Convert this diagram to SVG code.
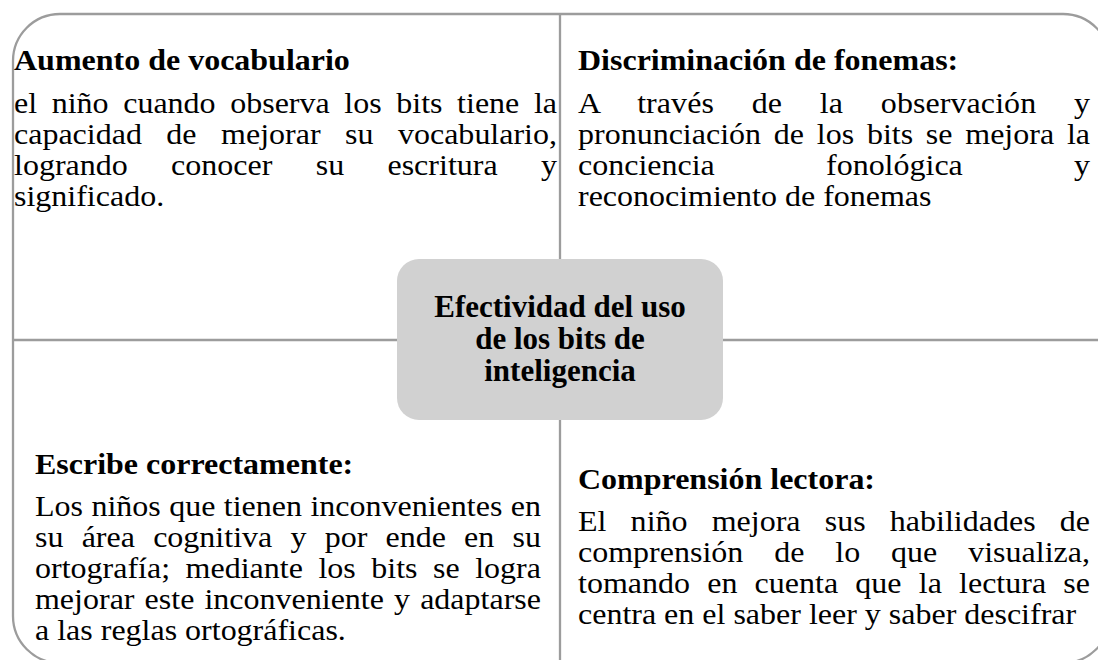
<svg xmlns="http://www.w3.org/2000/svg" width="1098" height="660" viewBox="0 0 1098 660">
<style>
.ln{fill:none;stroke:#9c9c9c;stroke-width:2.3}
.t{font-family:"Liberation Serif","Times New Roman",serif;font-weight:bold;font-size:32px;fill:#000}
.b{font-family:"Liberation Serif","Times New Roman",serif;font-size:32px;fill:#000}
.c{font-family:"Liberation Serif","Times New Roman",serif;font-weight:bold;font-size:31px;fill:#000;text-anchor:middle}
</style>
<rect width="1098" height="660" fill="#fff"/>
<g id="connectors">
<path class="ln" d="M13 61 A47 47 0 0 1 60 14 L1063 14 A47 47 0 0 1 1110 61 L1110 616 A47 47 0 0 1 1063 663 L60 663 A47 47 0 0 1 13 616 Z"/>
<line class="ln" x1="560" y1="14" x2="560" y2="259"/>
<line class="ln" x1="560" y1="420" x2="560" y2="663"/>
<line class="ln" x1="13" y1="340" x2="397" y2="340"/>
<line class="ln" x1="723" y1="340" x2="1110" y2="340"/>
</g>
<g id="node-center">
<rect x="397" y="259" width="326" height="161" rx="22" fill="#d1d1d1"/>
<text class="c" x="560" y="317">Efectividad del uso</text>
<text class="c" x="560" y="349">de los bits de</text>
<text class="c" x="560" y="381">inteligencia</text>
</g>
<g id="node-vocabulario" transform="translate(14 0) scale(1 0.92)">
<text class="t" x="0" y="76.09">Aumento de vocabulario</text>
<text class="b" x="0" y="122.83" textLength="543" lengthAdjust="spacing" style="word-spacing:6.6px">el niño cuando observa los bits tiene la</text>
<text class="b" x="0" y="156.52" textLength="543" lengthAdjust="spacing" style="word-spacing:16.5px">capacidad de mejorar su vocabulario,</text>
<text class="b" x="0" y="190.22" textLength="543" lengthAdjust="spacing" style="word-spacing:35.3px">logrando conocer su escritura y</text>
<text class="b" x="0" y="223.91">significado.</text>
</g>
<g id="node-fonemas" transform="translate(578 0) scale(1 0.92)">
<text class="t" x="0" y="76.09">Discriminación de fonemas:</text>
<text class="b" x="0" y="122.83" textLength="512" lengthAdjust="spacing" style="word-spacing:29.7px">A través de la observación y</text>
<text class="b" x="0" y="156.52" textLength="512" lengthAdjust="spacing" style="word-spacing:4.75px">pronunciación de los bits se mejora la</text>
<text class="b" x="0" y="190.22" textLength="512" lengthAdjust="spacing" style="word-spacing:103.2px">conciencia fonológica y</text>
<text class="b" x="0" y="223.91">reconocimiento de fonemas</text>
</g>
<g id="node-escribe" transform="translate(35 0) scale(1 0.92)">
<text class="t" x="0" y="515.22">Escribe correctamente:</text>
<text class="b" x="0" y="560.87" textLength="506" lengthAdjust="spacing" style="word-spacing:0.4px">Los niños que tienen inconvenientes en</text>
<text class="b" x="0" y="594.57" textLength="506" lengthAdjust="spacing" style="word-spacing:10.2px">su área cognitiva y por ende en su</text>
<text class="b" x="0" y="628.26" textLength="506" lengthAdjust="spacing" style="word-spacing:7.5px">ortografía; mediante los bits se logra</text>
<text class="b" x="0" y="661.96" textLength="506" lengthAdjust="spacing" style="word-spacing:2.1px">mejorar este inconveniente y adaptarse</text>
<text class="b" x="0" y="695.65">a las reglas ortográficas.</text>
</g>
<g id="node-comprension" transform="translate(578 0) scale(1 0.92)">
<text class="t" x="0" y="531.52">Comprensión lectora:</text>
<text class="b" x="0" y="577.17" textLength="512" lengthAdjust="spacing" style="word-spacing:16.2px">El niño mejora sus habilidades de</text>
<text class="b" x="0" y="610.87" textLength="512" lengthAdjust="spacing" style="word-spacing:22.9px">comprensión de lo que visualiza,</text>
<text class="b" x="0" y="644.57" textLength="512" lengthAdjust="spacing" style="word-spacing:9.2px">tomando en cuenta que la lectura se</text>
<text class="b" x="0" y="678.26">centra en el saber leer y saber descifrar</text>
</g>
</svg>
